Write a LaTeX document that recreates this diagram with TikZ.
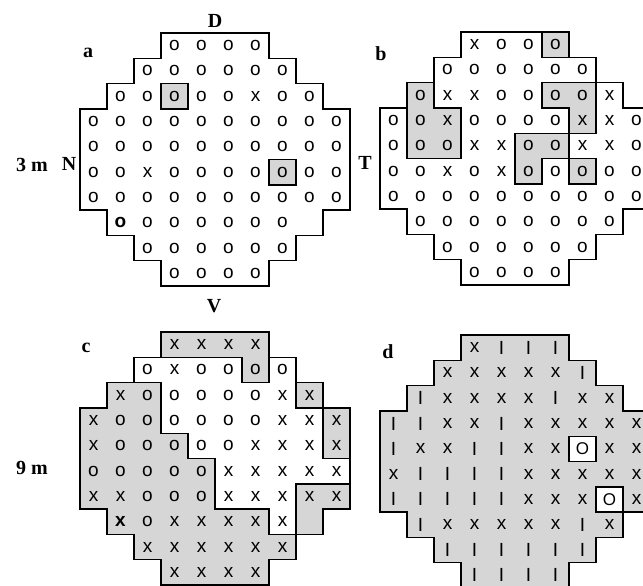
\documentclass[tikz,border=0pt]{standalone}
\usepackage{fontspec}
\setmainfont{Liberation Serif}
\setsansfont{Liberation Sans}
\definecolor{shade}{RGB}{214,214,214}
\tikzset{
  sym/.style={font=\sffamily\fontsize{19}{19}\selectfont, inner sep=0pt},
  lbl/.style={font=\rmfamily\bfseries\fontsize{20}{22}\selectfont, inner sep=0pt},
  border/.style={draw=black, line width=1.4pt, line join=miter},
  shd/.style={fill=shade, draw=black, line width=1.4pt},
  whitebox/.style={fill=white, draw=black, line width=1.4pt},
}
\newcommand\symo{o}
\newcommand\symx{x}
\newcommand\symI{I}
\newcommand\symbo{{\bfseries o}}
\newcommand\symbx{{\bfseries x}}
\newcommand\symO{{\fontsize{17}{17}\selectfont O}}
\newcommand\outerpoly[1]{\path[#1] (3,0) -- (7,0) -- (7,1) -- (8,1) -- (8,2) -- (9,2) -- (9,3) -- (10,3) -- (10,7) -- (9,7) -- (9,8) -- (8,8) -- (8,9) -- (7,9) -- (7,10) -- (3,10) -- (3,9) -- (2,9) -- (2,8) -- (1,8) -- (1,7) -- (0,7) -- (0,3) -- (1,3) -- (1,2) -- (2,2) -- (2,1) -- (3,1) -- cycle;}
\newcommand\prow[4]{%
  \foreach \s [count=\k from #3] in {#4}
    \node[sym] (#1r#2c\k) at (\k+0.5,#2-0.5) {\s};}
\begin{document}
\begin{tikzpicture}[x=1pt,y=-1pt]
\useasboundingbox (0,0) rectangle (643,586);
\fill[white] (0,0) rectangle (643,586);

% ---------- panel a ----------
\begin{scope}[shift={(80,33)}, x=27pt, y=-25.3pt]
  \path[shd] (3,2) rectangle (4,3);
  \path[shd] (7,5) rectangle (8,6);
  \outerpoly{border}
  \prow{a}{1}{3}{\symo,\symo,\symo,\symo}
  \prow{a}{2}{2}{\symo,\symo,\symo,\symo,\symo,\symo}
  \prow{a}{3}{1}{\symo,\symo,\symo,\symo,\symo,\symx,\symo,\symo}
  \prow{a}{4}{0}{\symo,\symo,\symo,\symo,\symo,\symo,\symo,\symo,\symo,\symo}
  \prow{a}{5}{0}{\symo,\symo,\symo,\symo,\symo,\symo,\symo,\symo,\symo,\symo}
  \prow{a}{6}{0}{\symo,\symo,\symx,\symo,\symo,\symo,\symo,\symo,\symo,\symo}
  \prow{a}{7}{0}{\symo,\symo,\symo,\symo,\symo,\symo,\symo,\symo,\symo,\symo}
  \prow{a}{8}{1}{\symbo,\symo,\symo,\symo,\symo,\symo,\symo}
  \prow{a}{9}{2}{\symo,\symo,\symo,\symo,\symo,\symo}
  \prow{a}{10}{3}{\symo,\symo,\symo,\symo}
\end{scope}

% ---------- panel b ----------
\begin{scope}[shift={(380,32)}, x=27pt, y=-25.3pt]
  \path[shd] (6,0) rectangle (7,1);
  \path[shd] (1,2) -- (2,2) -- (2,3) -- (3,3) -- (3,5) -- (1,5) -- cycle;
  \path[shd] (6,2) -- (8,2) -- (8,4) -- (7,4) -- (7,3) -- (6,3) -- cycle;
  \path[shd] (5,4) -- (7,4) -- (7,5) -- (6,5) -- (6,6) -- (5,6) -- cycle;
  \path[shd] (7,5) rectangle (8,6);
  \outerpoly{border}
  \prow{b}{1}{3}{\symx,\symo,\symo,\symo}
  \prow{b}{2}{2}{\symo,\symo,\symo,\symo,\symo,\symo}
  \prow{b}{3}{1}{\symo,\symx,\symx,\symo,\symo,\symo,\symo,\symx}
  \prow{b}{4}{0}{\symo,\symo,\symx,\symo,\symo,\symo,\symo,\symx,\symx,\symo}
  \prow{b}{5}{0}{\symo,\symo,\symo,\symx,\symx,\symo,\symo,\symx,\symx,\symo}
  \prow{b}{6}{0}{\symo,\symo,\symx,\symo,\symx,\symo,\symo,\symo,\symo,\symo}
  \prow{b}{7}{0}{\symo,\symo,\symo,\symo,\symo,\symo,\symo,\symo,\symo,\symo}
  \prow{b}{8}{1}{\symo,\symo,\symo,\symo,\symo,\symo,\symo,\symo}
  \prow{b}{9}{2}{\symo,\symo,\symo,\symo,\symo,\symo}
  \prow{b}{10}{3}{\symo,\symo,\symo,\symo}
\end{scope}

% ---------- panel c ----------
\begin{scope}[shift={(80,332)}, x=27pt, y=-25.3pt]
  \path[shd] (3,0) -- (7,0) -- (7,2) -- (6,2) -- (6,1) -- (3,1) -- cycle;
  \path[shd] (8,2) rectangle (9,3);
  \path[shd] (9,3) rectangle (10,5);
  \path[shd] (8,6) -- (10,6) -- (10,7) -- (9,7) -- (9,8) -- (8,8) -- cycle;
  \path[shd] (1,2) -- (3,2) -- (3,4) -- (4,4) -- (4,5) -- (5,5) -- (5,7) -- (7,7) -- (7,8) -- (8,8) -- (8,9) -- (7,9) -- (7,10) -- (3,10) -- (3,9) -- (2,9) -- (2,8) -- (1,8) -- (1,7) -- (0,7) -- (0,3) -- (1,3) -- cycle;
  \outerpoly{border}
  \prow{c}{1}{3}{\symx,\symx,\symx,\symx}
  \prow{c}{2}{2}{\symo,\symx,\symo,\symo,\symo,\symo}
  \prow{c}{3}{1}{\symx,\symo,\symo,\symo,\symo,\symo,\symx,\symx}
  \prow{c}{4}{0}{\symx,\symo,\symo,\symo,\symo,\symo,\symo,\symx,\symx,\symx}
  \prow{c}{5}{0}{\symx,\symo,\symo,\symo,\symo,\symo,\symx,\symx,\symx,\symx}
  \prow{c}{6}{0}{\symo,\symo,\symo,\symo,\symo,\symx,\symx,\symx,\symx,\symx}
  \prow{c}{7}{0}{\symx,\symx,\symo,\symo,\symo,\symx,\symx,\symx,\symx,\symx}
  \prow{c}{8}{1}{\symbx,\symo,\symx,\symx,\symx,\symx,\symx}
  \prow{c}{9}{2}{\symx,\symx,\symx,\symx,\symx,\symx}
  \prow{c}{10}{3}{\symx,\symx,\symx,\symx}
\end{scope}

% ---------- panel d ----------
\begin{scope}[shift={(380,335)}, x=27pt, y=-25.3pt]
  \outerpoly{shd}
  \path[whitebox] (7,4) rectangle (8,5);
  \path[whitebox] (8,6) rectangle (9,7);
  \prow{d}{1}{3}{\symx,\symI,\symI,\symI}
  \prow{d}{2}{2}{\symx,\symx,\symx,\symx,\symx,\symI}
  \prow{d}{3}{1}{\symI,\symx,\symx,\symx,\symx,\symI,\symx,\symx}
  \prow{d}{4}{0}{\symI,\symI,\symx,\symx,\symI,\symx,\symx,\symx,\symx,\symx}
  \prow{d}{5}{0}{\symI,\symx,\symx,\symI,\symI,\symx,\symx,\symO,\symx,\symx}
  \prow{d}{6}{0}{\symx,\symI,\symI,\symI,\symI,\symx,\symx,\symx,\symx,\symx}
  \prow{d}{7}{0}{\symI,\symI,\symI,\symI,\symI,\symx,\symx,\symx,\symO,\symx}
  \prow{d}{8}{1}{\symI,\symx,\symx,\symx,\symx,\symx,\symI,\symx}
  \prow{d}{9}{2}{\symI,\symI,\symI,\symI,\symI,\symI}
  \prow{d}{10}{3}{\symI,\symI,\symI,\symI}
\end{scope}

% ---------- labels ----------
\node[lbl] (labD) at (215,21) {D};
\node[lbl] (laba) at (88,53) {a};
\node[lbl] (lab3m) at (32,165) {3 m};
\node[lbl] (labN) at (69,164) {N};
\node[lbl] (labT) at (365,163) {T};
\node[lbl] (labb) at (381,54) {b};
\node[lbl] (labV) at (214,306) {V};
\node[lbl] (labc) at (86,348) {c};
\node[lbl] (lab9m) at (32,468) {9 m};
\node[lbl] (labd) at (388,352) {d};
\end{tikzpicture}
\end{document}
